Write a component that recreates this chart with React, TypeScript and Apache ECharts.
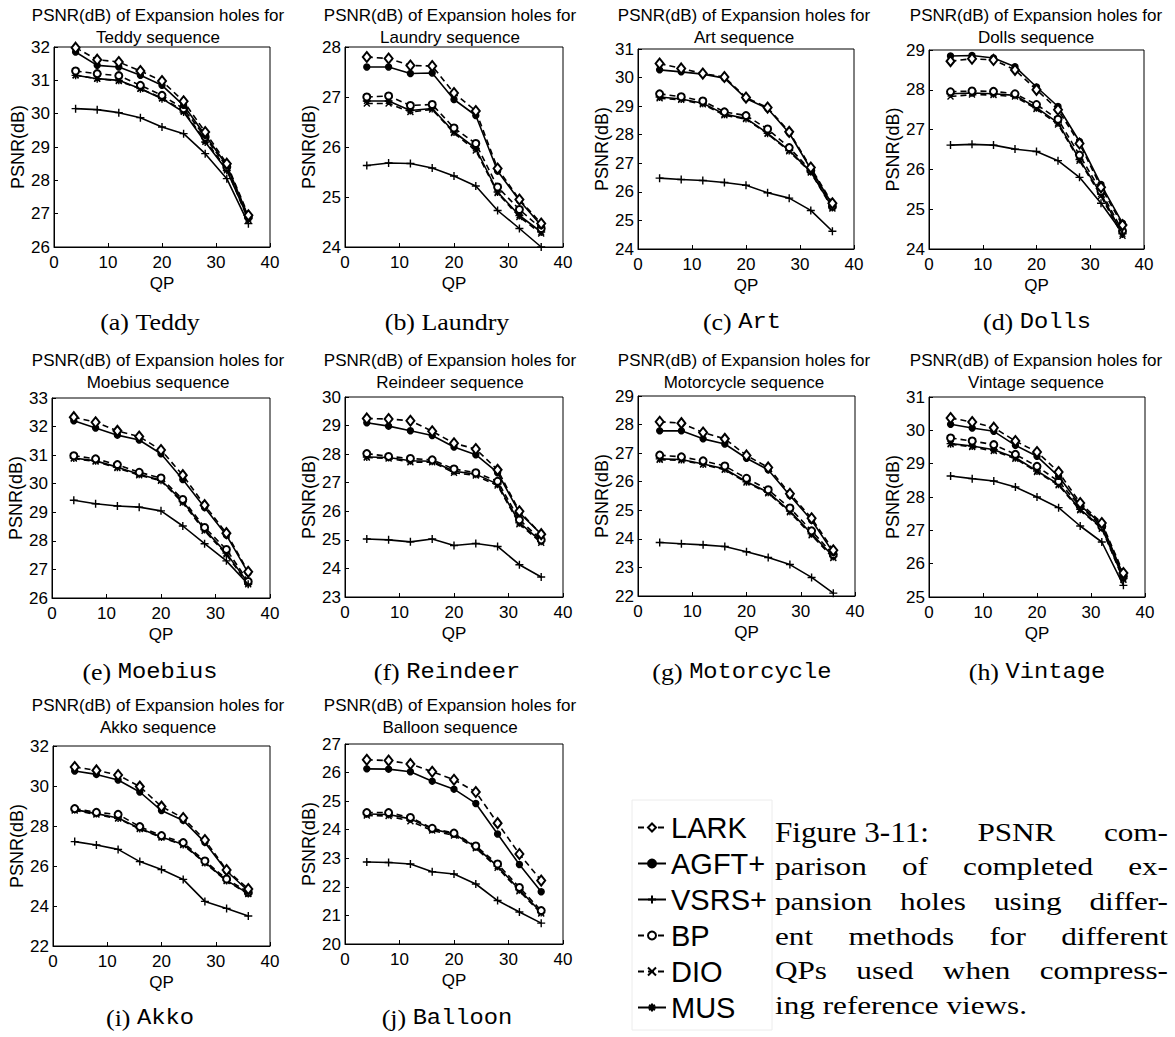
import React, { useEffect, useRef } from "react";
import * as echarts from "echarts";

const QP = [4, 8, 12, 16, 20, 24, 28, 32, 36];
const METHODS = ["LARK", "AGFT+", "VSRS+", "BP", "DIO", "MUS"];

// rows follow METHODS order
const teddy = [
  [31.98, 31.62, 31.55, 31.28, 30.98, 30.37, 29.45, 28.5, 26.95],
  [31.85, 31.45, 31.4, 31.15, 30.85, 30.25, 29.35, 28.45, 26.9],
  [30.15, 30.12, 30.03, 29.88, 29.6, 29.4, 28.8, 28.05, 26.7],
  [31.28, 31.2, 31.14, 30.85, 30.55, 30.15, 29.3, 28.4, 26.9],
  [31.15, 31.05, 30.98, 30.75, 30.47, 30.08, 29.2, 28.35, 26.8],
  [31.15, 31.05, 31.0, 30.75, 30.45, 30.05, 29.15, 28.3, 26.85],
];
const laundry = [
  [27.8, 27.77, 27.63, 27.62, 27.08, 26.72, 25.57, 24.95, 24.47],
  [27.6, 27.6, 27.47, 27.48, 26.95, 26.63, 25.52, 24.93, 24.43],
  [25.63, 25.68, 25.67, 25.58, 25.42, 25.22, 24.73, 24.37, 24.0],
  [27.0, 27.02, 26.83, 26.85, 26.38, 26.07, 25.2, 24.75, 24.37],
  [26.87, 26.87, 26.7, 26.75, 26.28, 25.93, 25.08, 24.6, 24.27],
  [26.92, 26.92, 26.73, 26.77, 26.3, 25.97, 25.1, 24.63, 24.3],
];
const art = [
  [30.49, 30.32, 30.14, 30.02, 29.3, 28.95, 28.1, 26.85, 25.6],
  [30.27, 30.2, 30.12, 29.98, 29.27, 28.92, 28.06, 26.8, 25.55],
  [26.48, 26.43, 26.4, 26.33, 26.23, 25.97, 25.78, 25.35, 24.62],
  [29.43, 29.33, 29.18, 28.8, 28.67, 28.2, 27.55, 26.75, 25.5],
  [29.28, 29.22, 29.07, 28.68, 28.55, 28.03, 27.42, 26.68, 25.42],
  [29.32, 29.25, 29.1, 28.72, 28.57, 28.05, 27.45, 26.7, 25.45],
];
const dolls = [
  [28.72, 28.78, 28.75, 28.5, 28.0, 27.5, 26.65, 25.55, 24.6],
  [28.85, 28.86, 28.8, 28.58, 28.07, 27.58, 26.7, 25.62, 24.65],
  [26.61, 26.63, 26.61, 26.51, 26.45, 26.22, 25.8, 25.15, 24.4],
  [27.95, 27.97, 27.96, 27.9, 27.63, 27.26, 26.36, 25.45, 24.45],
  [27.83, 27.88, 27.87, 27.83, 27.52, 27.13, 26.22, 25.33, 24.33],
  [27.9, 27.92, 27.9, 27.86, 27.55, 27.17, 26.25, 25.38, 24.38],
];
const moebius = [
  [32.33, 32.15, 31.85, 31.65, 31.18, 30.3, 29.25, 28.27, 26.92],
  [32.2, 31.95, 31.7, 31.53, 31.05, 30.15, 29.17, 28.2, 26.88],
  [29.42, 29.3, 29.22, 29.18, 29.05, 28.52, 27.9, 27.3, 26.48],
  [30.98, 30.87, 30.67, 30.4, 30.2, 29.45, 28.47, 27.7, 26.58],
  [30.88, 30.78, 30.55, 30.3, 30.1, 29.33, 28.35, 27.52, 26.48],
  [30.9, 30.8, 30.58, 30.33, 30.12, 29.38, 28.4, 27.57, 26.52],
];
const reindeer = [
  [29.25, 29.23, 29.17, 28.8, 28.38, 28.18, 27.45, 26.0, 25.2],
  [29.1, 28.98, 28.82, 28.65, 28.25, 27.98, 27.35, 25.95, 25.2],
  [25.03, 25.0, 24.93, 25.03, 24.8, 24.87, 24.77, 24.13, 23.7],
  [28.02, 27.92, 27.85, 27.8, 27.48, 27.35, 27.05, 25.7, 25.0],
  [27.88, 27.85, 27.72, 27.72, 27.35, 27.25, 26.9, 25.55, 24.9],
  [27.9, 27.88, 27.77, 27.75, 27.4, 27.3, 26.95, 25.6, 24.95],
];
const motorcycle = [
  [28.1, 28.05, 27.72, 27.5, 26.92, 26.5, 25.58, 24.72, 23.6],
  [27.78, 27.78, 27.5, 27.32, 26.82, 26.42, 25.52, 24.65, 23.52],
  [23.87, 23.83, 23.79, 23.73, 23.55, 23.35, 23.1, 22.65, 22.1],
  [26.93, 26.87, 26.73, 26.55, 26.12, 25.72, 25.08, 24.28, 23.45],
  [26.77, 26.75, 26.6, 26.42, 25.97, 25.6, 24.93, 24.13, 23.33],
  [26.8, 26.78, 26.62, 26.45, 26.0, 25.63, 24.97, 24.18, 23.38],
];
const vintage = [
  [30.37, 30.25, 30.08, 29.68, 29.35, 28.75, 27.82, 27.22, 25.72],
  [30.18, 30.07, 29.97, 29.55, 29.22, 28.62, 27.75, 27.18, 25.65],
  [28.63, 28.55, 28.48, 28.3, 28.0, 27.68, 27.13, 26.65, 25.35],
  [29.77, 29.68, 29.57, 29.28, 28.92, 28.47, 27.72, 27.12, 25.62],
  [29.58, 29.5, 29.38, 29.15, 28.75, 28.35, 27.6, 27.05, 25.52],
  [29.6, 29.53, 29.42, 29.18, 28.78, 28.38, 27.63, 27.08, 25.55],
];
const akko = [
  [30.95, 30.78, 30.55, 29.97, 28.97, 28.4, 27.3, 25.8, 24.85],
  [30.75, 30.58, 30.3, 29.7, 28.77, 28.28, 27.18, 25.75, 24.75],
  [27.22, 27.05, 26.83, 26.22, 25.82, 25.33, 24.23, 23.88, 23.5],
  [28.87, 28.68, 28.58, 27.97, 27.52, 27.17, 26.25, 25.35, 24.68],
  [28.78, 28.57, 28.37, 27.85, 27.42, 27.05, 26.15, 25.25, 24.6],
  [28.82, 28.62, 28.4, 27.88, 27.45, 27.08, 26.18, 25.28, 24.62],
];
const balloon = [
  [26.45, 26.42, 26.3, 26.03, 25.75, 25.32, 24.23, 23.15, 22.22],
  [26.13, 26.12, 26.03, 25.7, 25.42, 24.92, 23.85, 22.78, 21.83],
  [22.87, 22.85, 22.8, 22.53, 22.45, 22.1, 21.52, 21.12, 20.73],
  [24.6, 24.6, 24.43, 24.05, 23.88, 23.43, 22.8, 21.98, 21.17],
  [24.5, 24.48, 24.3, 23.97, 23.8, 23.35, 22.67, 21.85, 21.07],
  [24.55, 24.53, 24.38, 24.02, 23.85, 23.4, 22.72, 21.9, 21.1],
];

const PANEL_DATA = [teddy, laundry, art, dolls, moebius, reindeer, motorcycle, vintage, akko, balloon];
const TITLE_NAMES = ["Teddy", "Laundry", "Art", "Dolls", "Moebius", "Reindeer", "Motorcycle", "Vintage", "Akko", "Balloon"];
const CAPTION_NAMES = ["Teddy", "Laundry", "Art", "Dolls", "Moebius", "Reindeer", "Motorcycle", "Vintage", "Akko", "Balloon"];
const CAPTION_LETTERS = ["a", "b", "c", "d", "e", "f", "g", "h", "i", "j"];
const Y_MIN = [26, 24, 24, 24, 26, 23, 22, 25, 22, 20];
const Y_MAX = [32, 28, 31, 29, 33, 30, 29, 31, 32, 27];
const Y_STEP = [1, 1, 1, 1, 1, 1, 1, 1, 2, 1];
const X_MIN = 0;
const X_MAX = 40;
const X_STEP = 10;

const CAPTION_LABEL = "Figure 3-11:";
const CAPTION_BODY = [
  "PSNR com-",
  "parison of completed ex-",
  "pansion holes using differ-",
  "ent methods for different",
  "QPs used when compress-",
  "ing reference views.",
];

// layout (pixels)
const GRIDS = [
  { left: 54, top: 47, width: 216, height: 200 },
  { left: 345, top: 47, width: 218, height: 200 },
  { left: 638, top: 49, width: 216, height: 200 },
  { left: 929, top: 50, width: 215, height: 199 },
  { left: 52, top: 398, width: 218, height: 200 },
  { left: 345, top: 397, width: 218, height: 200 },
  { left: 638, top: 396, width: 217, height: 200 },
  { left: 929, top: 397, width: 216, height: 200 },
  { left: 53, top: 746, width: 217, height: 200 },
  { left: 345, top: 744, width: 218, height: 200 },
];
const TITLE_X = [158, 450, 744, 1036, 158, 450, 744, 1036, 158, 450];
const TITLE_Y = [15, 15, 15, 15, 360, 360, 360, 360, 705, 705];
const CAP_X = [150, 447, 742, 1037, 150, 447, 742, 1037, 150, 447];
const CAP_Y = [322, 322, 322, 322, 672, 672, 672, 672, 1018, 1018];

const SANS = '"Liberation Sans", Arial, sans-serif';
const SERIF = '"Liberation Serif", serif';
const MONO = '"Liberation Mono", monospace';

const PLUS = "path://M0,4L8,4M4,0L4,8";
const CROSS = "path://M0,0L8,8M0,8L8,0";
const STAR = "path://M0,4L8,4M4,0L4,8M1.2,1.2L6.8,6.8M1.2,6.8L6.8,1.2";

const STYLES: Record<string, { symbol: string; size: any; dash: boolean }> = {
  LARK: { symbol: "emptyDiamond", size: [8, 10], dash: true },
  "AGFT+": { symbol: "circle", size: 6, dash: false },
  "VSRS+": { symbol: PLUS, size: 8, dash: false },
  BP: { symbol: "emptyCircle", size: 7, dash: true },
  DIO: { symbol: CROSS, size: 6, dash: true },
  MUS: { symbol: STAR, size: 8, dash: false },
};

function buildCaption(): any[] {
  const canvas = document.createElement("canvas");
  const ctx = canvas.getContext("2d")!;
  const x0 = 775;
  const x1 = 1168;
  const lineY = [832, 866, 901, 936, 970, 1005];
  const bigSize = 30;
  const smallSize = 26;
  const bigStretch = 1.04;
  const stretch = 1.2;
  const els: any[] = [];
  CAPTION_BODY.forEach((line, li) => {
    const tokens: { t: string; s: number; k: number }[] = [];
    if (li === 0) tokens.push({ t: CAPTION_LABEL, s: bigSize, k: bigStretch });
    line.split(" ").forEach((t) => tokens.push({ t, s: smallSize, k: stretch }));
    const widths = tokens.map((tk) => {
      ctx.font = `${tk.s}px ${SERIF}`;
      return ctx.measureText(tk.t).width * tk.k;
    });
    const total = widths.reduce((a, b) => a + b, 0);
    const last = li === CAPTION_BODY.length - 1;
    ctx.font = `${smallSize}px ${SERIF}`;
    const gap = last ? ctx.measureText(" ").width * stretch : (x1 - x0 - total) / (tokens.length - 1);
    let x = x0;
    tokens.forEach((tk, i) => {
      els.push({
        type: "text",
        x,
        y: lineY[li],
        scaleX: tk.k,
        silent: true,
        style: {
          text: tk.t,
          fontSize: tk.s,
          fontFamily: SERIF,
          fill: "#000",
          align: "left",
          textAlign: "left",
          verticalAlign: "middle",
          textVerticalAlign: "middle",
        },
      });
      x += widths[i] + gap;
    });
  });
  return els;
}

export default function App() {
  const ref = useRef<HTMLDivElement>(null);
  useEffect(() => {
    if (!ref.current) return;
    const chart = echarts.init(ref.current, null, { renderer: "svg" });

    const grid: any[] = [];
    const xAxis: any[] = [];
    const yAxis: any[] = [];
    const series: any[] = [];
    const graphic: any[] = [];

    PANEL_DATA.forEach((panel, p) => {
      const g = GRIDS[p];
      grid.push({ ...g, show: true, borderColor: "#000", borderWidth: 1, backgroundColor: "transparent" });
      xAxis.push({
        type: "value",
        gridIndex: p,
        min: X_MIN,
        max: X_MAX,
        interval: X_STEP,
        name: "QP",
        nameLocation: "middle",
        nameGap: 28,
        nameTextStyle: { fontFamily: SANS, fontSize: 17, color: "#000" },
        axisLine: { show: true, lineStyle: { color: "#000", width: 1 } },
        axisTick: { show: true, inside: true, length: 4, lineStyle: { color: "#000" } },
        axisLabel: { fontFamily: SANS, fontSize: 17, color: "#000", margin: 7 },
        splitLine: { show: false },
      });
      yAxis.push({
        type: "value",
        gridIndex: p,
        min: Y_MIN[p],
        max: Y_MAX[p],
        interval: Y_STEP[p],
        name: "PSNR(dB)",
        nameLocation: "middle",
        nameGap: 27,
        nameRotate: 90,
        nameTextStyle: { fontFamily: SANS, fontSize: 18, color: "#000" },
        axisLine: { show: true, lineStyle: { color: "#000", width: 1 } },
        axisTick: { show: true, inside: true, length: 4, lineStyle: { color: "#000" } },
        axisLabel: { fontFamily: SANS, fontSize: 17, color: "#000", margin: 4 },
        splitLine: { show: false },
      });
      METHODS.forEach((m, mi) => {
        const st = STYLES[m];
        series.push({
          type: "line",
          name: m,
          xAxisIndex: p,
          yAxisIndex: p,
          data: QP.map((q, i) => [q, panel[mi][i]]),
          symbol: st.symbol,
          symbolSize: st.size,
          showAllSymbol: true,
          silent: true,
          lineStyle: { color: "#000", width: 1.6, type: st.dash ? [6, 4] : "solid" },
          itemStyle: { color: "#000", borderColor: "#000", borderWidth: 1.4 },
          emphasis: { disabled: true },
          z: 2 + (5 - mi),
        });
      });
      graphic.push({
        type: "text",
        x: TITLE_X[p],
        y: TITLE_Y[p],
        silent: true,
        style: {
          text: "PSNR(dB) of Expansion holes for",
          fontFamily: SANS,
          fontSize: 17,
          fill: "#000",
          align: "center",
          textAlign: "center",
          verticalAlign: "middle",
          textVerticalAlign: "middle",
        },
      });
      graphic.push({
        type: "text",
        x: TITLE_X[p],
        y: TITLE_Y[p] + 22,
        silent: true,
        style: {
          text: `${TITLE_NAMES[p]} sequence`,
          fontFamily: SANS,
          fontSize: 17,
          fill: "#000",
          align: "center",
          textAlign: "center",
          verticalAlign: "middle",
          textVerticalAlign: "middle",
        },
      });
      const mono = p >= 2;
      graphic.push({
        type: "text",
        x: CAP_X[p],
        y: CAP_Y[p],
        scaleX: 1.08,
        silent: true,
        style: {
          text: `{s|(${CAPTION_LETTERS[p]}) }{${mono ? "m" : "s"}|${CAPTION_NAMES[p]}}`,
          rich: {
            s: { fontFamily: SERIF, fontSize: 24, fill: "#000", color: "#000" },
            m: { fontFamily: MONO, fontSize: 22, fill: "#000", color: "#000" },
          },
          fill: "#000",
          align: "center",
          textAlign: "center",
          verticalAlign: "middle",
          textVerticalAlign: "middle",
        },
      });
    });

    graphic.push({
      type: "rect",
      shape: { x: 632, y: 800, width: 140, height: 230 },
      silent: true,
      style: { fill: "none", stroke: "#ececec", lineWidth: 1 },
      z: -1,
    });
    buildCaption().forEach((e) => graphic.push(e));

    chart.setOption({
      animation: false,
      backgroundColor: "#fff",
      grid,
      xAxis,
      yAxis,
      series,
      legend: {
        data: METHODS,
        orient: "vertical",
        left: 632,
        top: 807,
        itemWidth: 28,
        itemHeight: 10,
        itemGap: 5,
        selectedMode: false,
        textStyle: { fontFamily: SANS, fontSize: 29, color: "#000", lineHeight: 31 },
      },
      graphic: { elements: graphic },
    });
    return () => chart.dispose();
  }, []);
  return <div ref={ref} style={{ position: "absolute", left: 0, top: 0, width: 1175, height: 1037 }} />;
}
